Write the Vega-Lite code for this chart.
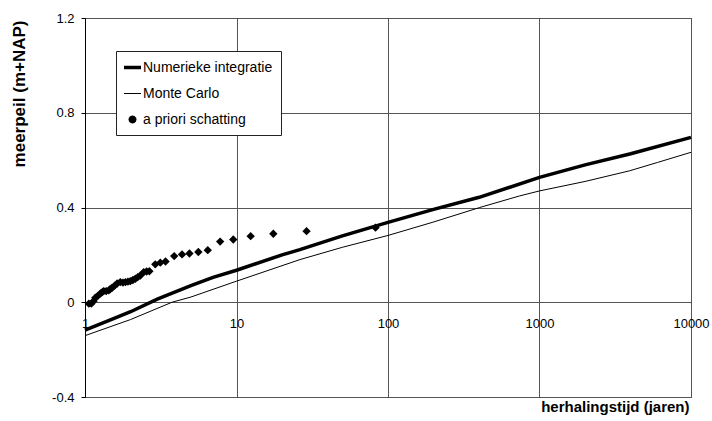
{
  "$schema": "https://vega.github.io/schema/vega-lite/v6.json",
  "width": 606,
  "height": 379,
  "autosize": {"type": "none"},
  "padding": {"left": 85, "top": 18, "right": 21, "bottom": 24},
  "background": "white",
  "config": {
    "font": "Liberation Sans",
    "view": {"stroke": "#333", "strokeWidth": 1},
    "axis": {"gridColor": "#555", "gridOpacity": 1, "gridWidth": 1, "labelColor": "black", "titleColor": "black", "labelFont": "Liberation Sans", "titleFont": "Liberation Sans"}
  },
  "data": {
    "values": [
      {"T": 1, "v": -0.118, "series": "Numerieke integratie"},
      {"T": 1.5, "v": -0.072, "series": "Numerieke integratie"},
      {"T": 2, "v": -0.04, "series": "Numerieke integratie"},
      {"T": 3, "v": 0.013, "series": "Numerieke integratie"},
      {"T": 5, "v": 0.07, "series": "Numerieke integratie"},
      {"T": 7, "v": 0.105, "series": "Numerieke integratie"},
      {"T": 10, "v": 0.135, "series": "Numerieke integratie"},
      {"T": 20, "v": 0.2, "series": "Numerieke integratie"},
      {"T": 26.2, "v": 0.222, "series": "Numerieke integratie"},
      {"T": 50, "v": 0.28, "series": "Numerieke integratie"},
      {"T": 100, "v": 0.337, "series": "Numerieke integratie"},
      {"T": 200, "v": 0.392, "series": "Numerieke integratie"},
      {"T": 400, "v": 0.443, "series": "Numerieke integratie"},
      {"T": 1000, "v": 0.527, "series": "Numerieke integratie"},
      {"T": 2000, "v": 0.58, "series": "Numerieke integratie"},
      {"T": 4000, "v": 0.627, "series": "Numerieke integratie"},
      {"T": 10000, "v": 0.696, "series": "Numerieke integratie"},
      {"T": 1, "v": -0.141, "series": "Monte Carlo"},
      {"T": 2, "v": -0.073, "series": "Monte Carlo"},
      {"T": 3.75, "v": 0.0, "series": "Monte Carlo"},
      {"T": 5, "v": 0.022, "series": "Monte Carlo"},
      {"T": 10, "v": 0.089, "series": "Monte Carlo"},
      {"T": 26.2, "v": 0.18, "series": "Monte Carlo"},
      {"T": 50, "v": 0.232, "series": "Monte Carlo"},
      {"T": 100, "v": 0.282, "series": "Monte Carlo"},
      {"T": 198, "v": 0.338, "series": "Monte Carlo"},
      {"T": 403, "v": 0.4, "series": "Monte Carlo"},
      {"T": 740, "v": 0.449, "series": "Monte Carlo"},
      {"T": 1000, "v": 0.47, "series": "Monte Carlo"},
      {"T": 2000, "v": 0.51, "series": "Monte Carlo"},
      {"T": 3936, "v": 0.555, "series": "Monte Carlo"},
      {"T": 6000, "v": 0.59, "series": "Monte Carlo"},
      {"T": 10000, "v": 0.633, "series": "Monte Carlo"},
      {"T": 1.06, "v": -0.006, "series": "a priori schatting"},
      {"T": 1.1, "v": -0.006, "series": "a priori schatting"},
      {"T": 1.14, "v": 0.005, "series": "a priori schatting"},
      {"T": 1.17, "v": 0.019, "series": "a priori schatting"},
      {"T": 1.22, "v": 0.028, "series": "a priori schatting"},
      {"T": 1.265, "v": 0.037, "series": "a priori schatting"},
      {"T": 1.3, "v": 0.043, "series": "a priori schatting"},
      {"T": 1.33, "v": 0.047, "series": "a priori schatting"},
      {"T": 1.38, "v": 0.047, "series": "a priori schatting"},
      {"T": 1.434, "v": 0.05, "series": "a priori schatting"},
      {"T": 1.47, "v": 0.056, "series": "a priori schatting"},
      {"T": 1.51, "v": 0.061, "series": "a priori schatting"},
      {"T": 1.57, "v": 0.07, "series": "a priori schatting"},
      {"T": 1.63, "v": 0.079, "series": "a priori schatting"},
      {"T": 1.71, "v": 0.085, "series": "a priori schatting"},
      {"T": 1.78, "v": 0.083, "series": "a priori schatting"},
      {"T": 1.85, "v": 0.085, "series": "a priori schatting"},
      {"T": 1.92, "v": 0.087, "series": "a priori schatting"},
      {"T": 1.99, "v": 0.089, "series": "a priori schatting"},
      {"T": 2.07, "v": 0.094, "series": "a priori schatting"},
      {"T": 2.15, "v": 0.099, "series": "a priori schatting"},
      {"T": 2.23, "v": 0.106, "series": "a priori schatting"},
      {"T": 2.32, "v": 0.113, "series": "a priori schatting"},
      {"T": 2.44, "v": 0.127, "series": "a priori schatting"},
      {"T": 2.55, "v": 0.13, "series": "a priori schatting"},
      {"T": 2.66, "v": 0.131, "series": "a priori schatting"},
      {"T": 2.91, "v": 0.16, "series": "a priori schatting"},
      {"T": 3.14, "v": 0.167, "series": "a priori schatting"},
      {"T": 3.4, "v": 0.172, "series": "a priori schatting"},
      {"T": 3.88, "v": 0.195, "series": "a priori schatting"},
      {"T": 4.37, "v": 0.202, "series": "a priori schatting"},
      {"T": 4.89, "v": 0.206, "series": "a priori schatting"},
      {"T": 5.6, "v": 0.212, "series": "a priori schatting"},
      {"T": 6.46, "v": 0.22, "series": "a priori schatting"},
      {"T": 7.8, "v": 0.256, "series": "a priori schatting"},
      {"T": 9.52, "v": 0.265, "series": "a priori schatting"},
      {"T": 12.4, "v": 0.279, "series": "a priori schatting"},
      {"T": 17.5, "v": 0.289, "series": "a priori schatting"},
      {"T": 29, "v": 0.3, "series": "a priori schatting"},
      {"T": 82.7, "v": 0.315, "series": "a priori schatting"}
    ]
  },
  "encoding": {
    "x": {
      "field": "T", "type": "quantitative",
      "scale": {"type": "log", "domain": [1, 10000], "nice": false},
      "axis": {
        "values": [1, 10, 100, 1000, 10000],
        "labelExpr": "'' + datum.value",
        "grid": true, "domain": false, "ticks": false, "tickSize": 0,
        "labelPadding": -80, "labelFlush": false, "labelFontSize": 13, "labelBaseline": "top",
        "title": "herhalingstijd (jaren)", "titleFontSize": 15, "titleFontWeight": "bold",
        "titleAlign": "right", "titleAnchor": null, "titleX": 604, "titleY": 14, "titleBaseline": "alphabetic"
      }
    },
    "y": {
      "field": "v", "type": "quantitative",
      "scale": {"domain": [-0.4, 1.2], "nice": false, "zero": false},
      "axis": {
        "values": [-0.4, 0, 0.4, 0.8, 1.2],
        "labelExpr": "'' + datum.value",
        "grid": true, "domain": true, "domainColor": "black", "ticks": true, "tickSize": 4, "tickColor": "black",
        "labelPadding": 7, "labelFontSize": 13,
        "title": "meerpeil (m+NAP)", "titleFontSize": 17, "titleFontWeight": "bold",
        "titleAngle": -90, "titleAlign": "right", "titleBaseline": "middle", "titleAnchor": null,
        "titleX": -66, "titleY": 2
      }
    }
  },
  "layer": [
    {
      "transform": [{"filter": "datum.series === 'Monte Carlo'"}],
      "mark": {"type": "line", "color": "black", "strokeWidth": 1}
    },
    {
      "transform": [{"filter": "datum.series === 'Numerieke integratie'"}],
      "mark": {"type": "line", "color": "black", "strokeWidth": 3.5}
    },
    {
      "transform": [{"filter": "datum.series === 'a priori schatting'"}],
      "mark": {"type": "point", "filled": true, "color": "black", "size": 70, "opacity": 1, "shape": "diamond"}
    },
    {
      "transform": [{"filter": "false"}],
      "mark": {"type": "point", "filled": true, "color": "black", "size": 289, "opacity": 1},
      "encoding": {
        "shape": {
          "field": "series", "type": "nominal",
          "scale": {
            "domain": ["Numerieke integratie", "Monte Carlo", "a priori schatting"],
            "range": [
              "M-1,-0.206H1V0.206H-1Z",
              "M-1,-0.06H1V0.06H-1Z",
              "M0.47,0L0.407,0.235L0.235,0.407L0,0.47L-0.235,0.407L-0.407,0.235L-0.47,0L-0.407,-0.235L-0.235,-0.407L0,-0.47L0.235,-0.407L0.407,-0.235Z"
            ]
          },
          "legend": {
            "title": null, "orient": "none", "legendX": 31, "legendY": 33,
            "fillColor": "white", "strokeColor": "#222", "padding": 8, "rowPadding": 10,
            "labelFontSize": 14, "labelColor": "black", "labelFont": "Liberation Sans",
            "symbolSize": 289, "labelOffset": 2, "symbolFillColor": "black", "symbolStrokeWidth": 0, "symbolOpacity": 1
          }
        }
      }
    }
  ]
}
